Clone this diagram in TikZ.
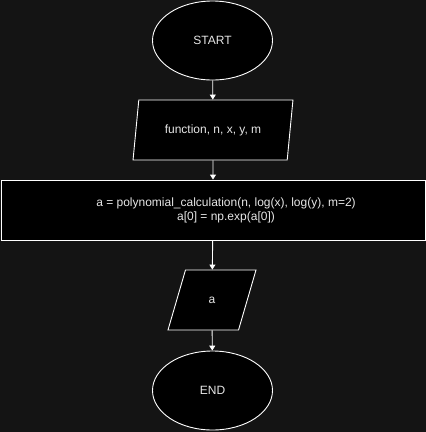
\documentclass[tikz,border=0pt]{standalone}
\usepackage{fontspec}
\setmainfont{Liberation Sans}
\usetikzlibrary{shapes.geometric,arrows.meta}
\definecolor{bg}{HTML}{141414}
\definecolor{txt}{HTML}{E6E6E6}
\tikzset{
  box/.style={draw=white, fill=black, line width=0.9pt, text=txt, font=\fontsize{12}{14.5}\selectfont, inner sep=0pt},
  term/.style={box, ellipse, minimum width=120pt, minimum height=79pt},
  io/.style={box, trapezium, trapezium left angle=71.5, trapezium right angle=108.5, minimum height=60pt},
  proc/.style={box, rectangle, minimum width=424pt, minimum height=60pt, align=center},
  lbl/.style={text=txt, font=\fontsize{12}{14.5}\selectfont, align=center, inner sep=0pt},
  arr/.style={draw=white, line width=0.9pt, -{Triangle[length=5pt,width=6pt]}},
}
\begin{document}
\begin{tikzpicture}[x=1pt,y=-1pt]
\fill[bg] (0,0) rectangle (426,432);
\useasboundingbox (0,0) rectangle (426,432);
\node[term] (start) at (212.5,40.5) {START};
\node[io, trapezium stretches=true, minimum width=160pt] (in) at (213,130) {function, n, x, y, m};
\node[proc] (calc) at (213,210) {};
\node[lbl] (calctext) at (226,210.5) {a = polynomial\_calculation(n, log(x), log(y), m=2)\\a[0] = np.exp(a[0])};
\node[io, trapezium stretches=true, minimum width=88pt] (out) at (212,300) {a};
\node[term] (end) at (212.5,390.5) {END};
\draw[arr] (start) -- (in);
\draw[arr] (in) -- (calc);
\draw[arr] (calc) -- (out);
\draw[arr] (out) -- (end);
\end{tikzpicture}
\end{document}
